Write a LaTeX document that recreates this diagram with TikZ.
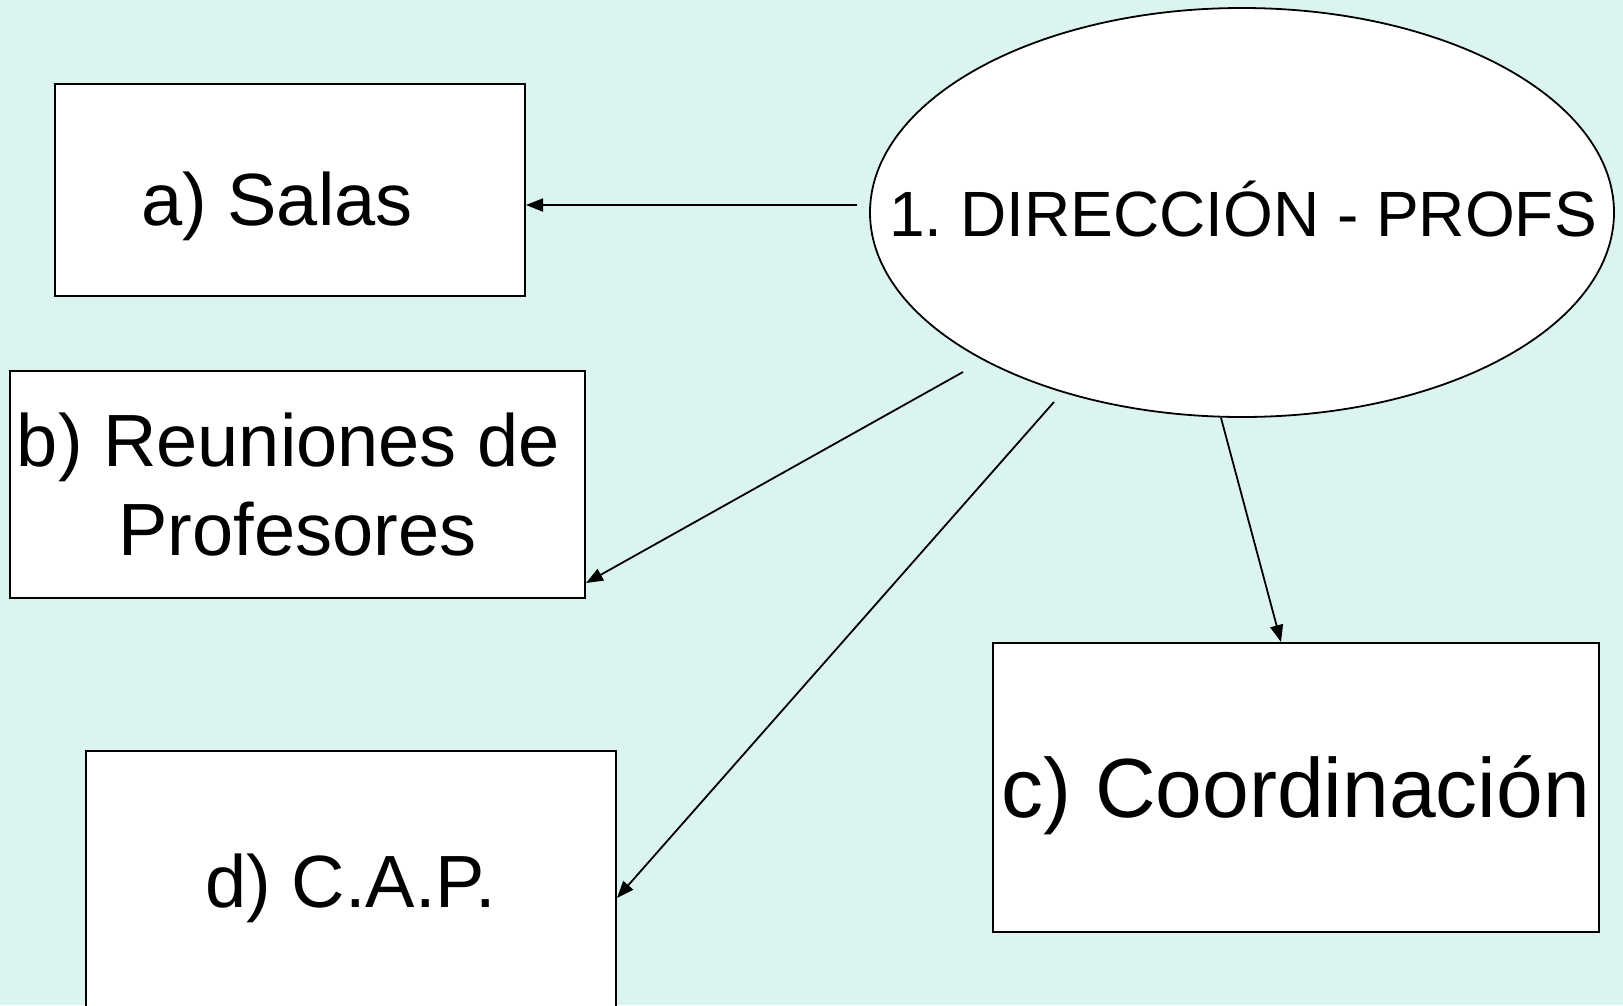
\documentclass[tikz,border=0pt]{standalone}
\usepackage{fontspec}
\setmainfont{Liberation Sans}
\usetikzlibrary{shapes.geometric,arrows.meta,calc}
\definecolor{bgc}{RGB}{220,244,240}
\frenchspacing
\begin{document}
\begin{tikzpicture}[x=1pt,y=-1pt,
  box/.style={draw=black,line width=2pt,fill=white,rectangle,inner sep=0pt},
  conn/.style={line width=1.8pt,-{Triangle[length=17pt,width=13pt]}},
  big/.style={font=\fontsize{74}{89}\selectfont,inner sep=0pt},
  lbl/.style={anchor=base,inner sep=0pt}]
\useasboundingbox (0,0) rectangle (1623,1005);
\clip (0,0) rectangle (1623,1005);
\fill[bgc] (0,0) rectangle (1623,1005);
% boxes
\node[box,minimum width=470pt,minimum height=212pt] (a) at (290,190) {};
\node[lbl,big] (at) at (277,225) {a) Salas};
\node[box,big,minimum width=575pt,minimum height=227pt,align=center] (b) at (297.5,484.5) {b) Reuniones de\kern18pt\\Profesores};
\node[box,minimum width=606pt,minimum height=289pt] (c) at (1296,787.5) {};
\node[lbl,font=\fontsize{84}{100}\selectfont] (ct) at (1296,817) {c) Coordinación};
\node[box,minimum width=530pt,minimum height=264pt] (d) at (351,883) {};
\node[lbl,big] (dt) at (351,907) {d) C.A.P.};
% ellipse
\node[ellipse,draw=black,line width=1.8pt,fill=white,minimum width=744pt,minimum height=409pt,inner sep=0pt] (e) at (1242,212.5) {};
\node[lbl,font=\fontsize{64}{77}\selectfont] (et) at (1243,236) {1. DIRECCIÓN - PROFS};
% connector starts
\coordinate (sa) at (857,205);
\coordinate (sb) at (963,372);
\coordinate (sd) at (1054,402);
% connectors
\draw[conn] (sa) -- (sa -| a.east);
\draw[conn] (sb) -- ($(b.south east)+(0,-16)$);
\draw[conn] (sd) -- ($(d.east)+(0,15)$);
\draw[conn] ($(e.south)+(-21,0)$) -- ($(c.north)+(-15,0)$);
\end{tikzpicture}
\end{document}
